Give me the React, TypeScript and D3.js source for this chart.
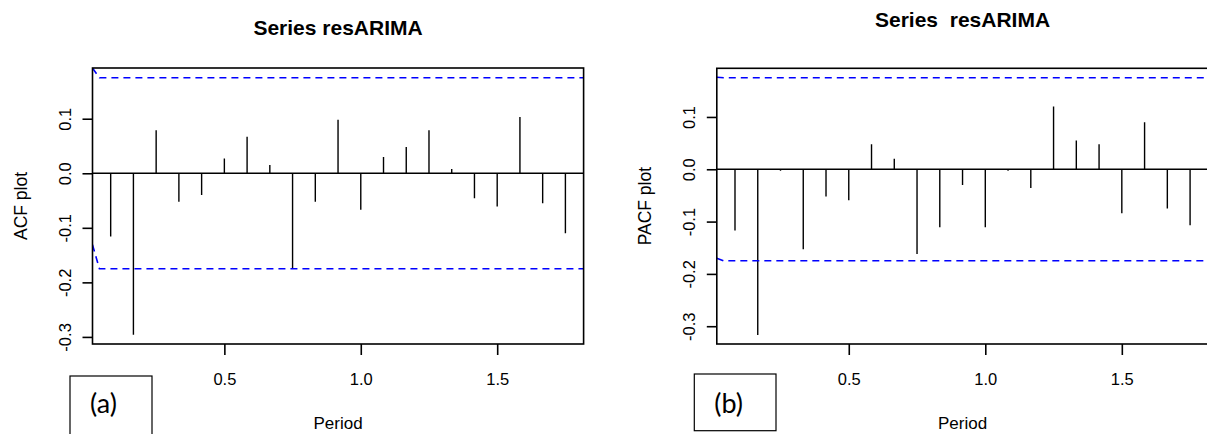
import React, { useEffect, useRef } from 'react';
import * as d3 from 'd3';

// lags in months, the series has frequency 12
const lagMonths = [1, 2, 3, 4, 5, 6, 7, 8, 9, 10, 11, 12, 13, 14, 15, 16, 17, 18, 19, 20, 21];
const frequency = 12;

const acfValues = [
  -0.116, -0.296, 0.079, -0.052, -0.040, 0.027, 0.067, 0.015, -0.175, -0.052, 0.098,
  -0.067, 0.030, 0.048, 0.079, 0.008, -0.046, -0.061, 0.103, -0.055, -0.110,
];
const pacfValues = [
  -0.117, -0.317, -0.003, -0.153, -0.052, -0.059, 0.048, 0.020, -0.162, -0.111, -0.030,
  -0.111, -0.003, -0.036, 0.120, 0.055, 0.048, -0.084, 0.090, -0.075, -0.107,
];

// confidence bound lines (blue dashed)
const ciLags = [0.0167, 0.042, 1.8167];
const acfCiUpper = [0.193, 0.175, 0.175];
const acfCiLower = [-0.131, -0.175, -0.175];
const pacfCiUpper = [0.176, 0.175, 0.175];
const pacfCiLower = [-0.170, -0.175, -0.175];

const yTickValues = [-0.3, -0.2, -0.1, 0.0, 0.1];
const xTickValues = [0.5, 1.0, 1.5];
const xDomain = [0.0167, 1.8167];

const FONT = "'Liberation Sans', Arial, sans-serif";

type Panel = {
  left: number;
  right: number;
  top: number;
  yDomain: [number, number];
  values: number[];
  ciUpper: number[];
  ciLower: number[];
  title: string;
  titleY: number;
  yLabel: string;
  tag: string;
  tagBox: [number, number, number, number];
  id: string;
};

const panels: Panel[] = [
  {
    left: 92.5, right: 583.6, top: 68, yDomain: [-0.313, 0.193],
    values: acfValues, ciUpper: acfCiUpper, ciLower: acfCiLower,
    title: 'Series resARIMA', titleY: 35, yLabel: 'ACF plot', tag: '(a)',
    tagBox: [70, 376, 82, 70], id: 'acf',
  },
  {
    left: 716.8, right: 1208.3, top: 68.3, yDomain: [-0.334, 0.193],
    values: pacfValues, ciUpper: pacfCiUpper, ciLower: pacfCiLower,
    title: 'Series  resARIMA', titleY: 27, yLabel: 'PACF plot', tag: '(b)',
    tagBox: [694.3, 374, 81.7, 56.7], id: 'pacf',
  },
];

const bottom = 344;

function drawPanel(svg: any, p: Panel) {
  const x = d3.scaleLinear().domain(xDomain).range([p.left, p.right]);
  const y = d3.scaleLinear().domain(p.yDomain).range([bottom, p.top]);
  const g = svg.append('g').attr('class', 'panel-' + p.id);

  g.append('clipPath').attr('id', 'clip-' + p.id)
    .append('rect')
    .attr('x', p.left).attr('y', p.top)
    .attr('width', p.right - p.left).attr('height', bottom - p.top);

  const plot = g.append('g').attr('clip-path', `url(#clip-${p.id})`);

  // zero line
  plot.append('line')
    .attr('x1', p.left).attr('x2', p.right)
    .attr('y1', y(0)).attr('y2', y(0))
    .attr('stroke', '#000').attr('stroke-width', 1.6);

  // spikes
  plot.selectAll('line.spike')
    .data(p.values)
    .enter()
    .append('line')
    .attr('class', 'spike')
    .attr('x1', (d: number, i: number) => x(lagMonths[i] / frequency))
    .attr('x2', (d: number, i: number) => x(lagMonths[i] / frequency))
    .attr('y1', y(0))
    .attr('y2', (d: number) => y(d))
    .attr('stroke', '#000')
    .attr('stroke-width', 1.4);

  // confidence bounds
  const ciLine = d3.line<number>()
    .x((d, i) => x(ciLags[i]))
    .y((d) => y(d));
  [p.ciUpper, p.ciLower].forEach((ci) => {
    plot.append('path')
      .attr('d', ciLine(ci))
      .attr('fill', 'none')
      .attr('stroke', '#0000ff')
      .attr('stroke-width', 1.6)
      .attr('stroke-dasharray', '7,5');
  });

  // box
  g.append('rect')
    .attr('x', p.left).attr('y', p.top)
    .attr('width', p.right - p.left).attr('height', bottom - p.top)
    .attr('fill', 'none').attr('stroke', '#000').attr('stroke-width', 1.6);

  // y axis
  const yAxis = d3.axisLeft(y)
    .tickValues(yTickValues)
    .tickSize(10)
    .tickFormat((d: any) => (+d).toFixed(1));
  const ya = g.append('g')
    .attr('transform', `translate(${p.left},0)`)
    .call(yAxis)
    .attr('font-family', null).attr('font-size', null);
  ya.select('.domain').remove();
  ya.selectAll('line').attr('stroke', '#000').attr('stroke-width', 1.6);
  ya.selectAll('text')
    .attr('transform', 'rotate(-90)')
    .attr('x', 0).attr('y', -21.5).attr('dy', null)
    .attr('text-anchor', 'middle')
    .attr('fill', '#000')
    .style('font-family', FONT).style('font-size', '16.5px');

  // x axis
  const xAxis = d3.axisBottom(x)
    .tickValues(xTickValues)
    .tickSize(11)
    .tickFormat((d: any) => (+d).toFixed(1));
  const xa = g.append('g')
    .attr('transform', `translate(0,${bottom})`)
    .call(xAxis)
    .attr('font-family', null).attr('font-size', null);
  xa.select('.domain').remove();
  xa.selectAll('line').attr('stroke', '#000').attr('stroke-width', 1.6);
  xa.selectAll('text')
    .attr('y', 41).attr('dy', null)
    .attr('fill', '#000')
    .style('font-family', FONT).style('font-size', '16.5px');

  const cx = (p.left + p.right) / 2;

  // title
  g.append('text')
    .attr('x', cx).attr('y', p.titleY)
    .attr('text-anchor', 'middle')
    .style('white-space', 'pre')
    .style('font-family', FONT).style('font-size', '21px').style('font-weight', 'bold')
    .text(p.title);

  // axis labels
  g.append('text')
    .attr('x', cx).attr('y', 429)
    .attr('text-anchor', 'middle')
    .style('font-family', FONT).style('font-size', '17px')
    .text('Period');
  g.append('text')
    .attr('transform', `translate(${p.left - 66},${(p.top + bottom) / 2}) rotate(-90)`)
    .attr('text-anchor', 'middle')
    .style('font-family', FONT).style('font-size', '17.5px')
    .text(p.yLabel);

  // panel tag box
  const [bx, by, bw, bh] = p.tagBox;
  g.append('rect')
    .attr('x', bx).attr('y', by).attr('width', bw).attr('height', bh)
    .attr('fill', '#fff').attr('stroke', '#000').attr('stroke-width', 1.2);
  g.append('text')
    .attr('x', bx + 20).attr('y', 413)
    .style('font-family', "Lato, 'Open Sans', sans-serif").style('font-size', '27px')
    .text(p.tag);
}

export default function App() {
  const ref = useRef<SVGSVGElement>(null);

  useEffect(() => {
    const svg = d3.select(ref.current);
    svg.selectAll('*').remove();
    svg.append('rect').attr('width', 1207).attr('height', 434).attr('fill', '#fff');
    panels.forEach((p) => drawPanel(svg, p));
  }, []);

  return (
    <svg
      ref={ref}
      width={1207}
      height={434}
      style={{ position: 'absolute', left: 0, top: 0, display: 'block' }}
    />
  );
}
